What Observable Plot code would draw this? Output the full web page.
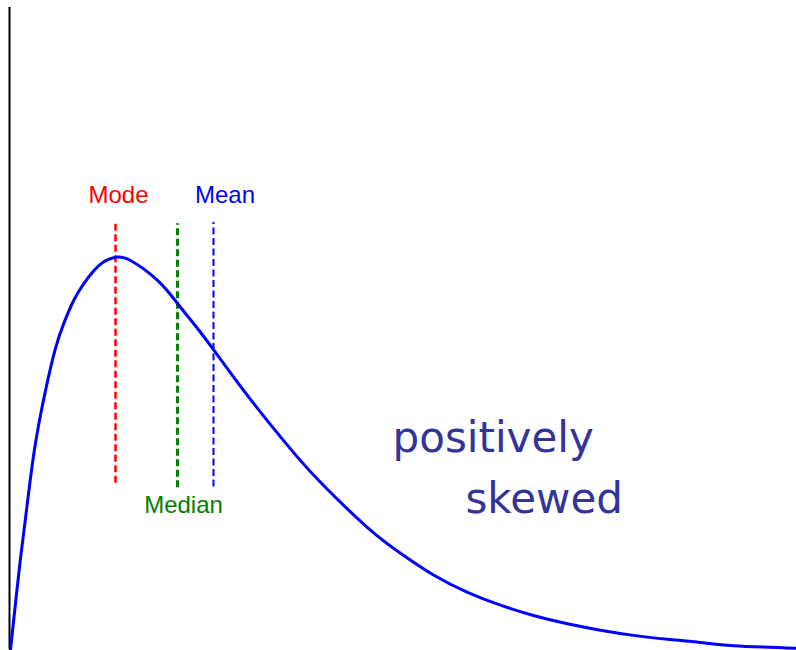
<!DOCTYPE html>
<html>
<head>
<meta charset="utf-8">
<script src="https://cdn.jsdelivr.net/npm/d3@7"></script>
<script src="https://cdn.jsdelivr.net/npm/@observablehq/plot@0.6"></script>
<style>
  html, body { margin: 0; padding: 0; background: #fff; }
  #chart svg { display: block; }
</style>
</head>
<body>
<div id="chart"></div>
<script>
// Density curve of a right-skewed distribution (x, density)
const curveX = [0.013, 0.076, 0.140, 0.216, 0.318, 0.457, 0.584, 0.690, 0.817, 0.944,
                1.071, 1.198, 1.347, 1.537, 1.881, 2.135, 2.389, 2.592, 2.850, 3.104,
                3.358, 3.656, 3.994, 4.549, 4.968, 5.388, 5.820, 6.239, 6.658, 7.090,
                7.510, 7.929, 8.361, 8.780, 9.200, 10.0];
const curveY = [0.0, 0.072, 0.142, 0.217, 0.312, 0.403, 0.469, 0.508, 0.544, 0.570,
                0.590, 0.604, 0.611, 0.606, 0.575, 0.539, 0.500, 0.467, 0.424, 0.383,
                0.344, 0.300, 0.255, 0.190, 0.150, 0.116, 0.089, 0.069, 0.053, 0.040,
                0.030, 0.022, 0.016, 0.011, 0.006, 0.002];

// Measures of central tendency
const measures = ["Mode", "Median", "Mean"];
const measureX = [1.347, 2.135, 2.592];
const measureTop = [0.666, 0.663, 0.665];
const measureBottom = [0.259, 0.252, 0.253];

// Label anchors for each measure
const labelX = [1.385, 2.211, 2.738];
const labelY = [0.695, 0.213, 0.695];

// Annotation
const noteLines = ["positively", "skewed"];
const noteX = [4.867, 5.794];
const noteY = [0.307, 0.213];

const curve = curveX.map((x, i) => ({x, y: curveY[i]}));
const colors = {Mode: "#ff0000", Median: "#008000", Mean: "#0000ff"};
const widths = {Mode: 2.5, Median: 3, Mean: 2};

const rules = measures.map((name, i) => ({
  name, x: measureX[i], y1: measureBottom[i], y2: measureTop[i]
}));
const labels = measures.map((name, i) => ({name, x: labelX[i], y: labelY[i]}));
const notes = noteLines.map((text, i) => ({text, x: noteX[i], y: noteY[i]}));

const chart = Plot.plot({
  width: 796,
  height: 650,
  marginLeft: 9,
  marginRight: 0,
  marginTop: 7,
  marginBottom: 1,
  x: {domain: [0, 10], axis: null},
  y: {domain: [0, 1], axis: null},
  style: {background: "#fff"},
  marks: [
    // vertical axis line
    Plot.ruleX([0], {y1: 0, y2: 1, stroke: "#000", strokeWidth: 2}),
    ...rules.map(r => Plot.ruleX([r], {
      x: "x", y1: "y1", y2: "y2",
      stroke: colors[r.name], strokeWidth: widths[r.name], strokeDasharray: "7,3.5"
    })),
    Plot.line(curve, {
      x: "x", y: "y", curve: "natural",
      stroke: "#0000ff", strokeWidth: 3
    }),
    Plot.text(labels, {
      x: "x", y: "y", text: "name", textAnchor: "middle", lineAnchor: "bottom",
      fill: d => colors[d.name], fontSize: 24,
      fontFamily: "'Liberation Sans', Arial, sans-serif"
    }),
    Plot.text(notes, {
      x: "x", y: "y", text: "text", textAnchor: "start", lineAnchor: "bottom",
      fill: "#333399", fontSize: 42,
      fontFamily: "'DejaVu Sans', sans-serif"
    })
  ]
});

document.getElementById("chart").appendChild(chart);
</script>
</body>
</html>
